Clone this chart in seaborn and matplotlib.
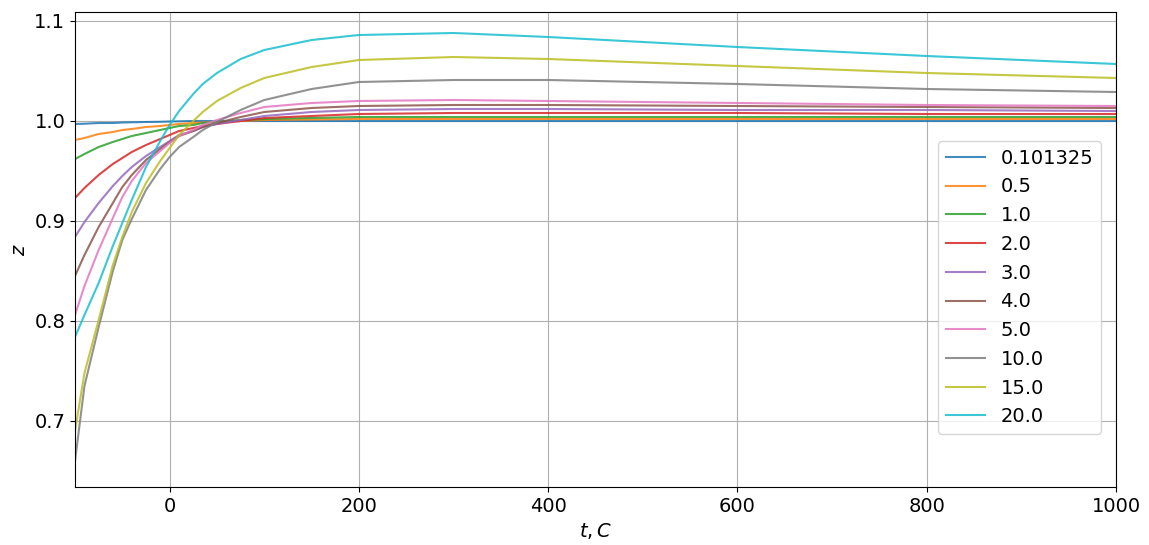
import matplotlib
matplotlib.use("Agg")
import matplotlib.pyplot as plt
import seaborn as sns
import pandas as pd

t = [-100, -90, -75, -60, -50, -40, -25, -10, 0, 10, 25, 35, 50, 75, 100, 150, 200, 300, 400, 600, 800, 1000]
labels = ["0.101325", "0.5", "1.0", "2.0", "3.0", "4.0", "5.0", "10.0", "15.0", "20.0"]
z_0101325 = [0.997, 0.9973, 0.998, 0.998, 0.9985, 0.9987, 0.999, 0.9992, 0.9995, 0.9997, 1.0, 1.0, 1.0, 1.0, 1.0, 1.0, 1.0, 1.0, 1.0, 1.0, 1.0, 1.0]
z_05 = [0.981, 0.983, 0.987, 0.989, 0.991, 0.992, 0.994, 0.995, 0.996, 0.997, 0.998, 0.9985, 0.999, 1.0, 1.001, 1.0015, 1.002, 1.002, 1.002, 1.002, 1.002, 1.002]
z_1 = [0.962, 0.967, 0.974, 0.979, 0.982, 0.985, 0.988, 0.991, 0.993, 0.995, 0.996, 0.998, 0.999, 1.001, 1.002, 1.003, 1.004, 1.004, 1.004, 1.004, 1.004, 1.004]
z_2 = [0.923, 0.933, 0.946, 0.957, 0.963, 0.969, 0.976, 0.982, 0.986, 0.990, 0.993, 0.995, 0.997, 1.000, 1.003, 1.005, 1.007, 1.008, 1.008, 1.008, 1.007, 1.007]
z_3 = [0.884, 0.899, 0.918, 0.935, 0.945, 0.954, 0.965, 0.974, 0.980, 0.986, 0.990, 0.994, 0.997, 1.001, 1.005, 1.009, 1.011, 1.012, 1.012, 1.011, 1.011, 1.010]
z_4 = [0.845, 0.866, 0.894, 0.918, 0.934, 0.946, 0.961, 0.972, 0.979, 0.985, 0.990, 0.994, 0.998, 1.004, 1.009, 1.013, 1.015, 1.016, 1.016, 1.015, 1.014, 1.013]
z_5 = [0.806, 0.835, 0.871, 0.903, 0.924, 0.940, 0.958, 0.970, 0.978, 0.985, 0.991, 0.996, 1.001, 1.008, 1.014, 1.018, 1.020, 1.021, 1.020, 1.018, 1.016, 1.015]
z_10 = [0.660, 0.735, 0.794, 0.850, 0.881, 0.902, 0.931, 0.952, 0.964, 0.974, 0.984, 0.991, 0.999, 1.011, 1.021, 1.032, 1.039, 1.041, 1.041, 1.037, 1.032, 1.029]
z_15 = [0.690, 0.748, 0.801, 0.856, 0.884, 0.909, 0.938, 0.960, 0.973, 0.986, 1.000, 1.009, 1.020, 1.033, 1.043, 1.054, 1.061, 1.064, 1.062, 1.055, 1.048, 1.043]
z_20 = [0.784, 0.806, 0.838, 0.875, 0.898, 0.921, 0.954, 0.980, 0.996, 1.010, 1.027, 1.037, 1.048, 1.062, 1.071, 1.081, 1.086, 1.088, 1.084, 1.074, 1.065, 1.057]
series = [z_0101325, z_05, z_1, z_2, z_3, z_4, z_5, z_10, z_15, z_20]

rows = []
for lab, zs in zip(labels, series):
    for ti, zi in zip(t, zs):
        rows.append({"t": ti, "z": zi, "p": lab})
df = pd.DataFrame(rows)

fig = plt.figure(figsize=(11.49, 5.45), dpi=100)
ax = fig.add_axes([75/1149, (545-487)/545, (1116-75)/1149, (487-12)/545])
sns.lineplot(data=df, x="t", y="z", hue="p", hue_order=labels, palette="tab10", ax=ax, linewidth=1.5, alpha=0.85)
ax.set_xlim(-100, 1000)
ax.set_ylim(0.634, 1.109)
ax.set_xticks([0, 200, 400, 600, 800, 1000])
ax.set_yticks([0.7, 0.8, 0.9, 1.0, 1.1])
ax.grid(True, color="#b0b0b0", linewidth=0.8)
ax.tick_params(labelsize=14)
ax.set_xlabel("$t, C$", fontsize=14)
ax.set_ylabel("$z$", fontsize=14)
leg = ax.legend(loc="center right", fontsize=14, bbox_to_anchor=(0.995, 0.42))
leg.set_title(None)
fig.savefig("out.png", dpi=100)
